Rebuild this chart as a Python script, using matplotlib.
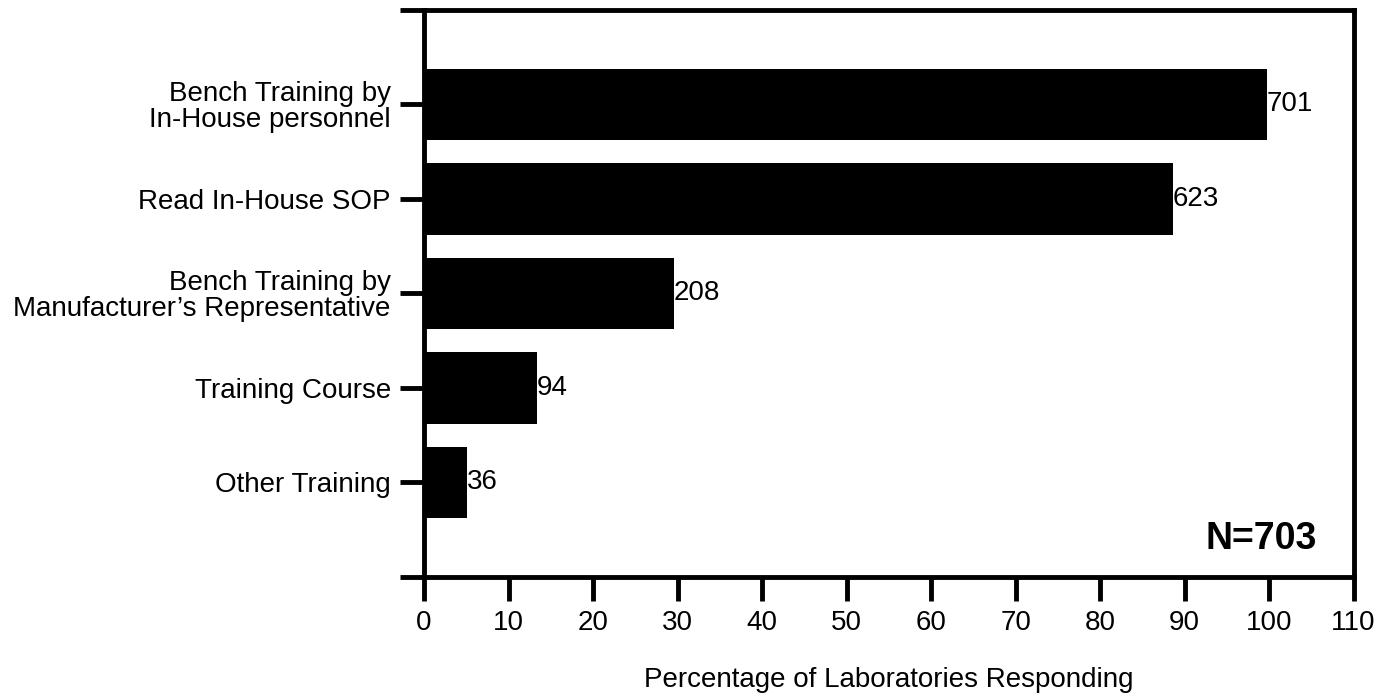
import matplotlib.pyplot as plt

plt.rcParams['font.family'] = ['Liberation Sans', 'DejaVu Sans']

categories = ["Bench Training by\nIn-House personnel",
              "Read In-House SOP",
              "Bench Training by\nManufacturer\u2019s Representative",
              "Training Course",
              "Other Training"]
counts = [701, 623, 208, 94, 36]
total = 703

percents = [c / total * 100 for c in counts]
positions = [1, 2, 3, 4, 5]

fig = plt.figure(figsize=(13.77, 6.98), dpi=100)
ax = fig.add_axes([0.308, 0.1734, 0.675, 0.8123])

ax.barh(positions, percents, height=0.76, color="black")

for y, p, c in zip(positions, percents, counts):
    ax.text(p, y, str(c), ha="left", va="center", fontsize=20)

ax.set_xlim(0, 110)
ax.set_ylim(6, 0)
ax.set_xticks(range(0, 111, 10))
ax.set_yticks([0, 1, 2, 3, 4, 5, 6])
ax.set_yticklabels([""] + categories + [""], linespacing=1.0)

for s in ax.spines.values():
    s.set_linewidth(3.5)

ax.tick_params(axis="both", length=17, width=3.5, labelsize=20, pad=7)
ax.set_xlabel("Percentage of Laboratories Responding", fontsize=20, labelpad=22)

ax.text(105.6, 5.6, "N=703", ha="right", va="center", fontsize=27, fontweight="bold")

fig.savefig("out.png", dpi=100)
